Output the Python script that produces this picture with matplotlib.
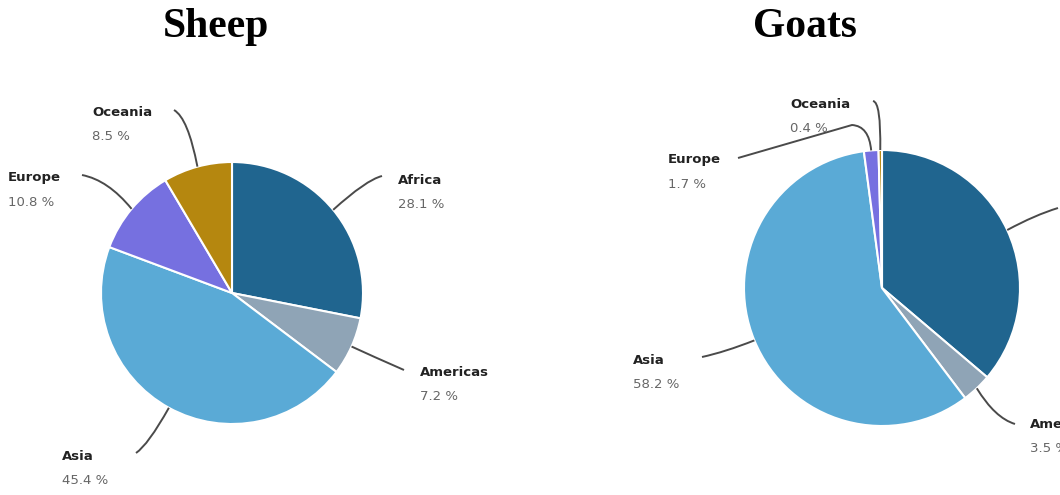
import numpy as np
import matplotlib
matplotlib.use("Agg")
import matplotlib.pyplot as plt
from matplotlib.path import Path
from matplotlib.patches import PathPatch

# shares of world stock by region
regions = ["Africa", "Americas", "Asia", "Europe", "Oceania"]
sheep = [28.1, 7.2, 45.4, 10.8, 8.5]
goats = [36.2, 3.5, 58.2, 1.7, 0.4]
colors = ["#20658f", "#8fa4b6", "#5aaad6", "#7670e0", "#b5870f"]

W, H = 1060, 495

# layout in pixels (from top-left): pie centre/radius, title x,
# and for each region the label anchor and leader line points after the wedge edge
charts = [
    dict(title="Sheep", values=sheep, cx=232, cy=293, r=131, tx=216,
         text=[(398, 180), (420, 372), (62, 456), (8, 178), (92, 113)],
         leader=[[(366, 180), (382, 176)],
                 [(372, 356), (404, 370)],
                 [(148, 445), (136, 453)],
                 [(108, 180), (82, 175)],
                 [(188, 118), (174, 110)]]),
    dict(title="Goats", values=goats, cx=882, cy=288, r=138, tx=805,
         text=[(1068, 210), (1030, 425), (633, 360), (668, 160), (790, 105)],
         leader=[[(1035, 215), (1058, 208)],
                 [(995, 418), (1015, 424)],
                 [(725, 352), (702, 357)],
                 [(869, 126), (852, 125), (738, 158)],
                 [(881, 102), (873, 101)]]),
]

fig = plt.figure(figsize=(W / 100, H / 100), dpi=100)

for c in charts:
    cx, cy, r = c["cx"], c["cy"], c["r"]
    ax = fig.add_axes([(cx - r) / W, (H - cy - r) / H, 2 * r / W, 2 * r / H])
    wedges, _ = ax.pie(c["values"], colors=colors, startangle=90, counterclock=False,
                       radius=1, wedgeprops=dict(edgecolor="white", linewidth=1.5))
    ax.set_xlim(-1, 1)
    ax.set_ylim(-1, 1)
    ax.set_axis_off()

    def to_data(p):
        return ((p[0] - cx) / r, (cy - p[1]) / r)

    for i, w in enumerate(wedges):
        mid = np.deg2rad((w.theta1 + w.theta2) / 2)
        start = (np.cos(mid), np.sin(mid))
        pts = [start] + [to_data(p) for p in c["leader"][i]]
        codes = [Path.MOVETO, Path.CURVE3, Path.CURVE3] + [Path.LINETO] * (len(pts) - 3)
        ax.add_patch(PathPatch(Path(pts, codes), facecolor="none", edgecolor="#4a4a4a",
                               linewidth=1.4, clip_on=False))
        tx, ty = c["text"][i]
        x0, y0 = to_data((tx, ty))
        x1, y1 = to_data((tx, ty + 24))
        ax.text(x0, y0, regions[i], fontfamily="DejaVu Sans", fontweight="bold", fontsize=9.5,
                color="#222222", ha="left", va="center", clip_on=False)
        ax.text(x1, y1, "%.1f %%" % c["values"][i], fontfamily="DejaVu Sans", fontsize=9.5,
                color="#666666", ha="left", va="center", clip_on=False)

    fig.text(c["tx"] / W, 1 - 27 / H, c["title"], fontfamily="Liberation Serif",
             fontweight="bold", fontsize=30, ha="center", va="center")

fig.savefig("out.png", dpi=100)
